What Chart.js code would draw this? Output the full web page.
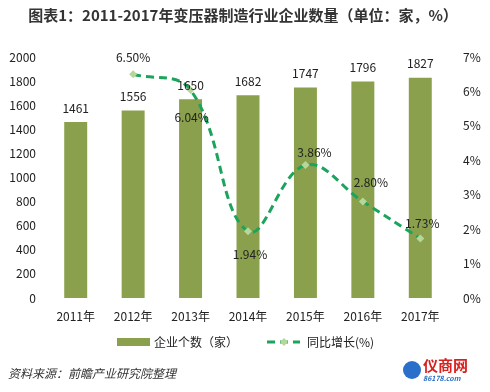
<!DOCTYPE html>
<html lang="zh">
<head>
  <meta charset="UTF-8">
  <title>变压器制造行业企业数量</title>
  <script src="https://cdn.jsdelivr.net/npm/chart.js"></script>
  <style>
    html, body { margin: 0; padding: 0; background: #fff; }
    #wrap { width: 490px; height: 392px; position: relative; }
  </style>
</head>
<body>
  <div id="wrap"><canvas id="chart" width="490" height="392"></canvas></div>

  <script>
    // data
    const years = ['2011年', '2012年', '2013年', '2014年', '2015年', '2016年', '2017年'];
    const companies = [1461, 1556, 1650, 1682, 1747, 1796, 1827];
    const growth = [null, 6.50, 6.04, 1.94, 3.86, 2.80, 1.73];
    const leftTicks = [0, 200, 400, 600, 800, 1000, 1200, 1400, 1600, 1800, 2000];
    const rightTicks = [0, 1, 2, 3, 4, 5, 6, 7];

    const FONT = '"Noto Sans CJK SC", "Noto Sans", sans-serif';
    const barColor = '#8aa04c';
    const lineColor = '#1ca45c';

    // where each growth label sits relative to its point (dx, dy)
    const growthLabelOffset = [null, [0, -17], [1, 27], [2, 23], [9, -13], [8, -19], [2, -15]];

    const extras = {
      id: 'extras',
      afterDatasetsDraw(chart) {
        const ctx = chart.ctx;
        ctx.save();
        ctx.font = '12px ' + FONT;
        ctx.fillStyle = '#222';
        ctx.textAlign = 'center';
        ctx.textBaseline = 'middle';

        // bar value labels
        chart.getDatasetMeta(0).data.forEach((bar, i) => {
          ctx.fillText(companies[i], bar.x, bar.y - 14);
        });

        // growth labels
        chart.getDatasetMeta(1).data.forEach((pt, i) => {
          if (growth[i] == null) return;
          const o = growthLabelOffset[i];
          ctx.fillText(growth[i].toFixed(2) + '%', pt.x + o[0], pt.y + o[1]);
        });
        ctx.restore();
      },
      afterDraw(chart) {
        const ctx = chart.ctx;
        ctx.save();

        // title
        ctx.font = 'bold 15px ' + FONT;
        ctx.fillStyle = '#333';
        ctx.textAlign = 'center';
        ctx.textBaseline = 'middle';
        ctx.fillText('图表1：2011-2017年变压器制造行业企业数量（单位：家，%）', 243, 15);

        // legend
        const ly = 342;
        ctx.fillStyle = barColor;
        ctx.fillRect(117, ly - 4, 33, 8);
        ctx.fillStyle = '#222';
        ctx.font = '12px ' + FONT;
        ctx.textAlign = 'left';
        ctx.fillText('企业个数（家）', 154, ly);

        ctx.strokeStyle = lineColor;
        ctx.lineWidth = 3;
        ctx.setLineDash([8, 5]);
        ctx.beginPath();
        ctx.moveTo(267, ly);
        ctx.lineTo(300, ly);
        ctx.stroke();
        ctx.setLineDash([]);
        ctx.fillStyle = '#b5d89a';
        ctx.beginPath();
        ctx.moveTo(284, ly - 4); ctx.lineTo(288, ly); ctx.lineTo(284, ly + 4); ctx.lineTo(280, ly);
        ctx.closePath();
        ctx.fill();
        ctx.fillStyle = '#222';
        ctx.fillText('同比增长(%)', 307, ly);

        // source
        ctx.font = 'italic 12px ' + FONT;
        ctx.fillStyle = '#333';
        ctx.fillText('资料来源：前瞻产业研究院整理', 8, 373);

        // logo
        ctx.fillStyle = '#2a6fc9';
        ctx.beginPath();
        ctx.arc(412, 370, 9, 0, Math.PI * 2);
        ctx.fill();
        ctx.fillStyle = '#d8211f';
        ctx.font = 'bold 15px ' + FONT;
        ctx.fillText('仪商网', 423, 365);
        ctx.fillStyle = '#2a6fc9';
        ctx.font = 'bold italic 7px ' + FONT;
        ctx.fillText('86178.com', 423, 378);
        ctx.restore();
      }
    };

    new Chart(document.getElementById('chart'), {
      data: {
        labels: years,
        datasets: [
          {
            type: 'bar',
            label: '企业个数（家）',
            data: companies,
            backgroundColor: barColor,
            yAxisID: 'y',
            categoryPercentage: 1,
            barPercentage: 0.4,
            order: 2
          },
          {
            type: 'line',
            label: '同比增长(%)',
            data: growth,
            borderColor: lineColor,
            borderWidth: 3,
            borderDash: [8, 5],
            tension: 0.4,
            pointStyle: 'rectRot',
            pointRadius: 4,
            pointBackgroundColor: '#b5d89a',
            pointBorderWidth: 0,
            yAxisID: 'y1',
            order: 1
          }
        ]
      },
      plugins: [extras],
      options: {
        responsive: false,
        animation: false,
        layout: { padding: { top: 57, left: 0, right: 0, bottom: 0 } },
        plugins: {
          legend: { display: false },
          title: { display: false },
          tooltip: { enabled: false }
        },
        scales: {
          x: {
            grid: { display: false, drawTicks: false },
            border: { display: false },
            ticks: { color: '#222', font: { size: 12, family: FONT }, padding: 11 },
            afterFit(s) { s.height = 94; }
          },
          y: {
            position: 'left',
            min: 0, max: 2000,
            afterBuildTicks(s) { s.ticks = leftTicks.map(v => ({ value: v })); },
            grid: { display: false, drawTicks: false },
            border: { display: false },
            ticks: {
              color: '#222', font: { size: 12, family: FONT }, padding: 11,
              callback: v => String(v)
            },
            afterFit(s) { s.width = 47; }
          },
          y1: {
            position: 'right',
            min: 0, max: 7,
            afterBuildTicks(s) { s.ticks = rightTicks.map(v => ({ value: v })); },
            grid: { display: false, drawTicks: false },
            border: { display: false },
            ticks: {
              color: '#222', font: { size: 12, family: FONT }, padding: 14,
              callback: v => v + '%'
            },
            afterFit(s) { s.width = 41; }
          }
        }
      }
    });
  </script>
</body>
</html>
